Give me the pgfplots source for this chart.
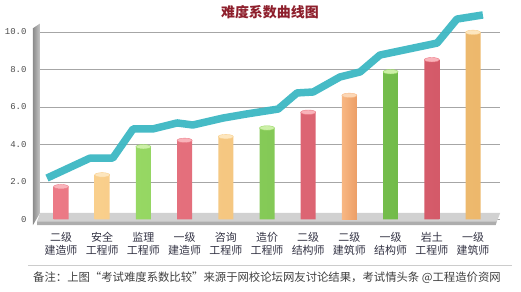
\documentclass[border=0pt]{standalone}
\usepackage{pgfplots}
\pgfplotsset{compat=1.18}
\usepackage{fontspec}
\newfontfamily\cjk{Noto Sans CJK SC}
\newfontfamily\monof{Liberation Mono}
\definecolor{redM}{HTML}{EC7A86}
\definecolor{redL}{HTML}{F9B3BA}
\definecolor{redD}{HTML}{D45A69}
\definecolor{yelM}{HTML}{F9CF8C}
\definecolor{yelL}{HTML}{FDE6BE}
\definecolor{yelD}{HTML}{EDB86C}
\definecolor{orgM}{HTML}{F8B783}
\definecolor{orgL}{HTML}{FCD7B6}
\definecolor{orgD}{HTML}{EC9E66}
\definecolor{grnM}{HTML}{97D864}
\definecolor{grnL}{HTML}{CDF0A8}
\definecolor{grnD}{HTML}{72BB4A}
\definecolor{teal}{HTML}{3CB7C3}
\definecolor{titlered}{HTML}{8E1F2C}
\definecolor{txt}{HTML}{333344}
\begin{document}
\begin{tikzpicture}
\begin{axis}[
  set layers,
  x=41.2bp, y=18.75bp,
  xmin=-0.51, xmax=10.66, ymin=0, ymax=10.2,
  clip=false,
  axis line style={draw=none},
  major tick length=0pt,
  ytick={0,2,4,6,8,10},
  yticklabels={0,2.0,4.0,6.0,8.0,10.0},
  yticklabel style={font=\monof\fontsize{9}{9}\selectfont, text=black!70, anchor=east, xshift=-10bp},
  ymajorgrids, grid style={black!35, line width=0.6pt},
  xtick={0,...,10},
  xticklabels={{二级\\建造师},{安全\\工程师},{监理\\工程师},{一级\\建造师},{咨询\\工程师},{造价\\工程师},{二级\\结构师},{二级\\建筑师},{一级\\结构师},{岩土\\工程师},{一级\\建筑师}},
  xticklabel style={font=\cjk\fontsize{11}{13.5}\selectfont, text=txt, align=center, anchor=north, yshift=-9bp},
  bar width=15bp,
]
% decorative floor and wall
\begin{pgfonlayer}{axis grid}
\fill[black!18] (axis cs:-0.51,0.35) -- (axis cs:10.66,0.35) -- (axis cs:10.58,-0.1) -- (axis cs:-0.58,-0.1) -- cycle;
\fill[black!32] (axis cs:-0.58,-0.1) -- (axis cs:10.58,-0.1) -- (axis cs:10.55,-0.3) -- (axis cs:-0.58,-0.3) -- cycle;
\shade[left color=black!45, right color=black!22] (axis cs:-0.68,-0.3) -- (axis cs:-0.68,10.2) -- (axis cs:-0.51,10.45) -- (axis cs:-0.51,0.35) -- cycle;
\end{pgfonlayer}
% bars
\addplot[ybar, bar shift=0pt, draw=none, left color=redM, middle color=redL, right color=redD] coordinates {(0,1.75) (3,4.22) (6,5.72) (9,8.52)};
\addplot[ybar, bar shift=0pt, draw=none, left color=yelM, middle color=yelL, right color=yelD] coordinates {(1,2.38) (4,4.42) (10,9.98)};
\addplot[ybar, bar shift=0pt, draw=none, left color=orgM, middle color=orgL, right color=orgD] coordinates {(7,6.62)};
\addplot[ybar, bar shift=0pt, draw=none, left color=grnM, middle color=grnL, right color=grnD] coordinates {(2,3.88) (5,4.88) (8,7.88)};
% cylinder tops
\addplot[only marks, mark=*, mark size=7.5bp, mark options={yscale=0.3, fill=redL, draw=redM}] coordinates {(0,1.75) (3,4.22) (6,5.72) (9,8.52)};
\addplot[only marks, mark=*, mark size=7.5bp, mark options={yscale=0.3, fill=yelL, draw=yelM}] coordinates {(1,2.38) (4,4.42) (10,9.98)};
\addplot[only marks, mark=*, mark size=7.5bp, mark options={yscale=0.3, fill=orgL, draw=orgM}] coordinates {(7,6.62)};
\addplot[only marks, mark=*, mark size=7.5bp, mark options={yscale=0.3, fill=grnL, draw=grnM}] coordinates {(2,3.88) (5,4.88) (8,7.88)};
% curve
\addplot[teal, line width=7.5bp, line join=round, line cap=butt, opacity=0.95] coordinates {
(-0.34,2.21) (0.70,3.27) (1.26,3.28) (1.75,4.83) (2.23,4.83) (2.82,5.15) (3.20,5.04)
(3.93,5.41) (4.51,5.63) (5.27,5.89) (5.73,6.75) (6.12,6.80) (6.77,7.6) (7.26,7.87)
(7.74,8.77) (9.13,9.41) (9.61,10.69) (10.24,10.91)};
% texts
\node[font=\cjk\bfseries\fontsize{14}{14}\selectfont, text=titlered] at (axis cs:5.07,11.07) {难度系数曲线图};
\draw[black!20, line width=0.6pt] (axis cs:-0.80,-2.43) -- (axis cs:10.95,-2.43);
\node[anchor=west, inner sep=0pt, font=\cjk\fontsize{11.4}{12}\selectfont, text=black!75] at (axis cs:-0.68,-3.12) {备注：上图“考试难度系数比较”来源于网校论坛网友讨论结果，考试情头条 @工程造价资网};
\path (axis cs:-1.4806,-3.8667) rectangle (axis cs:11.165,11.7067);
\end{axis}
\end{tikzpicture}
\end{document}
